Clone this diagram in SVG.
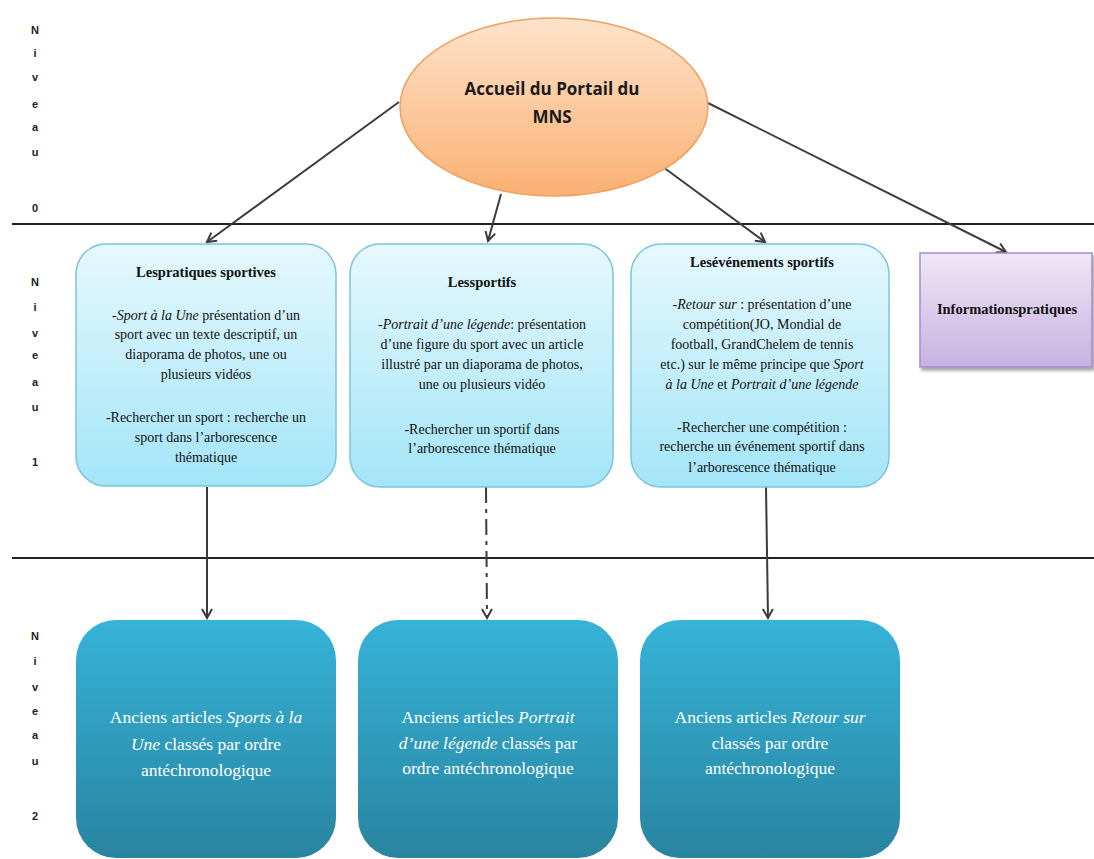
<svg xmlns="http://www.w3.org/2000/svg" width="1094" height="859" viewBox="0 0 1094 859">
  <defs>
    <linearGradient id="gOrange" x1="0" y1="0" x2="0" y2="1">
      <stop offset="0" stop-color="#fde3cb"/>
      <stop offset="1" stop-color="#fab072"/>
    </linearGradient>
    <linearGradient id="gLight" x1="0" y1="0" x2="0" y2="1">
      <stop offset="0" stop-color="#e6f8fd"/>
      <stop offset="1" stop-color="#a3e5f8"/>
    </linearGradient>
    <linearGradient id="gPurple" x1="0" y1="0" x2="0" y2="1">
      <stop offset="0" stop-color="#efe7f7"/>
      <stop offset="1" stop-color="#c6b2e2"/>
    </linearGradient>
    <linearGradient id="gDeep" x1="0" y1="0" x2="0" y2="1">
      <stop offset="0" stop-color="#36b3d8"/>
      <stop offset="1" stop-color="#2984a0"/>
    </linearGradient>
    <marker id="arr" viewBox="0 0 12 12" refX="10" refY="6" markerWidth="12" markerHeight="12" markerUnits="userSpaceOnUse" orient="auto">
      <path d="M1,1 L10,6 L1,11" fill="none" stroke="#3c3c3c" stroke-width="2"/>
    </marker>
    <filter id="shadow" x="-10%" y="-10%" width="130%" height="130%">
      <feDropShadow dx="2" dy="3" stdDeviation="1.5" flood-color="#000" flood-opacity="0.35"/>
    </filter>
  </defs>
  <style>
    .lvl { font-family: "Liberation Sans", Arial, sans-serif; font-size: 11px; font-weight: bold; fill: #222; text-anchor: middle; }
    .sep { stroke: #222; stroke-width: 2; }
    .conn { stroke: #3c3c3c; stroke-width: 2; fill: none; marker-end: url(#arr); }
    .t1 { font-family: "Liberation Serif", "Times New Roman", serif; font-size: 14px; fill: #111; text-anchor: middle; }
    .t1b { font-family: "Liberation Serif", "Times New Roman", serif; font-size: 14.5px; font-weight: bold; fill: #111; text-anchor: middle; }
    .t2 { font-family: "Liberation Serif", "Times New Roman", serif; font-size: 17.5px; fill: #ffffff; text-anchor: middle; }
    .it { font-style: italic; }
  </style>

  <rect width="1094" height="859" fill="#ffffff"/>

  <!-- level bands -->
  <g id="separators">
    <line class="sep" x1="12" y1="224" x2="1094" y2="224"/>
    <line class="sep" x1="12" y1="558" x2="1094" y2="558"/>
  </g>

  <!-- vertical level labels -->
  <g id="level-labels">
    <text class="lvl" x="35" y="34">N</text>
    <text class="lvl" x="35" y="57">i</text>
    <text class="lvl" x="35" y="81">v</text>
    <text class="lvl" x="35" y="108">e</text>
    <text class="lvl" x="35" y="131">a</text>
    <text class="lvl" x="35" y="156">u</text>
    <text class="lvl" x="35" y="212">0</text>

    <text class="lvl" x="35" y="286">N</text>
    <text class="lvl" x="35" y="311">i</text>
    <text class="lvl" x="35" y="337">v</text>
    <text class="lvl" x="35" y="359">e</text>
    <text class="lvl" x="35" y="386">a</text>
    <text class="lvl" x="35" y="411">u</text>
    <text class="lvl" x="35" y="466">1</text>

    <text class="lvl" x="35" y="640">N</text>
    <text class="lvl" x="35" y="665">i</text>
    <text class="lvl" x="35" y="691">v</text>
    <text class="lvl" x="35" y="715">e</text>
    <text class="lvl" x="35" y="739">a</text>
    <text class="lvl" x="35" y="765">u</text>
    <text class="lvl" x="35" y="820">2</text>
  </g>

  <!-- connectors -->
  <g id="connectors">
    <line class="conn" x1="399" y1="102" x2="207" y2="242"/>
    <line class="conn" x1="501" y1="194" x2="488" y2="241"/>
    <line class="conn" x1="663" y1="167" x2="765" y2="242"/>
    <line class="conn" x1="708" y1="103" x2="1006" y2="252"/>
    <line class="conn" x1="207" y1="487" x2="207" y2="618"/>
    <line class="conn" x1="486" y1="487" x2="487" y2="618" stroke-dasharray="16,6,4,6"/>
    <line class="conn" x1="766" y1="487" x2="768" y2="618"/>
  </g>

  <!-- level 0 -->
  <g id="home">
    <ellipse cx="554" cy="107" rx="154" ry="89" fill="url(#gOrange)" stroke="#f0a060" stroke-width="1.5"/>
    <text x="552" y="95" font-family="'Open Sans', 'Liberation Sans', sans-serif" font-size="17" font-weight="bold" fill="#1a1a1a" text-anchor="middle">Accueil du Portail du</text>
    <text x="552" y="123" font-family="'Open Sans', 'Liberation Sans', sans-serif" font-size="17" font-weight="bold" fill="#1a1a1a" text-anchor="middle">MNS</text>
  </g>

  <!-- level 1 -->
  <g id="pratiques">
    <rect x="76" y="244" width="260" height="242" rx="30" fill="url(#gLight)" stroke="#7cc3dc" stroke-width="1.5"/>
    <text class="t1b" x="206" y="277">Lespratiques sportives</text>
    <text class="t1" x="206" y="320"><tspan class="it">-Sport à la Une</tspan> présentation d’un</text>
    <text class="t1" x="206" y="339">sport avec un texte descriptif, un</text>
    <text class="t1" x="206" y="359">diaporama de photos, une ou</text>
    <text class="t1" x="206" y="379">plusieurs vidéos</text>
    <text class="t1" x="206" y="422">-Rechercher un sport : recherche un</text>
    <text class="t1" x="206" y="442">sport dans l’arborescence</text>
    <text class="t1" x="206" y="462">thématique</text>
  </g>

  <g id="sportifs">
    <rect x="350" y="244" width="263" height="243" rx="30" fill="url(#gLight)" stroke="#7cc3dc" stroke-width="1.5"/>
    <text class="t1b" x="482" y="287">Lessportifs</text>
    <text class="t1" x="482" y="329"><tspan class="it">-Portrait d’une légende</tspan>: présentation</text>
    <text class="t1" x="482" y="349">d’une figure du sport avec un article</text>
    <text class="t1" x="482" y="369">illustré par un diaporama de photos,</text>
    <text class="t1" x="482" y="389">une ou plusieurs vidéo</text>
    <text class="t1" x="482" y="434">-Rechercher un sportif  dans</text>
    <text class="t1" x="482" y="453">l’arborescence thématique</text>
  </g>

  <g id="evenements">
    <rect x="631" y="244" width="258" height="243" rx="30" fill="url(#gLight)" stroke="#7cc3dc" stroke-width="1.5"/>
    <text class="t1b" x="762" y="267">Lesévénements sportifs</text>
    <text class="t1" x="762" y="309"><tspan class="it">-Retour sur</tspan> : présentation d’une</text>
    <text class="t1" x="762" y="329">compétition(JO, Mondial de</text>
    <text class="t1" x="762" y="349">football, GrandChelem de tennis</text>
    <text class="t1" x="762" y="369">etc.) sur le même principe que <tspan class="it">Sport</tspan></text>
    <text class="t1" x="762" y="389"><tspan class="it">à la Une</tspan> et <tspan class="it">Portrait d’une légende</tspan></text>
    <text class="t1" x="762" y="432">-Rechercher une compétition :</text>
    <text class="t1" x="762" y="451">recherche un événement sportif dans</text>
    <text class="t1" x="762" y="472">l’arborescence thématique</text>
  </g>

  <g id="infos">
    <rect x="920" y="253" width="172" height="114" fill="url(#gPurple)" stroke="#a58dc8" stroke-width="1.5" filter="url(#shadow)"/>
    <text class="t1b" x="1007" y="314" font-size="15">Informationspratiques</text>
  </g>

  <!-- level 2 -->
  <g id="archives-sports">
    <rect x="76" y="620" width="260" height="238" rx="40" fill="url(#gDeep)"/>
    <text class="t2" x="206" y="723">Anciens articles <tspan class="it">Sports à la</tspan></text>
    <text class="t2" x="206" y="750"><tspan class="it">Une</tspan> classés par ordre</text>
    <text class="t2" x="206" y="776">antéchronologique</text>
  </g>

  <g id="archives-portraits">
    <rect x="358" y="620" width="260" height="238" rx="40" fill="url(#gDeep)"/>
    <text class="t2" x="488" y="723">Anciens articles <tspan class="it">Portrait</tspan></text>
    <text class="t2" x="488" y="749"><tspan class="it">d’une légende</tspan> classés par</text>
    <text class="t2" x="488" y="774">ordre antéchronologique</text>
  </g>

  <g id="archives-retours">
    <rect x="640" y="620" width="260" height="238" rx="40" fill="url(#gDeep)"/>
    <text class="t2" x="770" y="723">Anciens articles <tspan class="it">Retour sur</tspan></text>
    <text class="t2" x="770" y="749">classés par ordre</text>
    <text class="t2" x="770" y="774">antéchronologique</text>
  </g>
</svg>
